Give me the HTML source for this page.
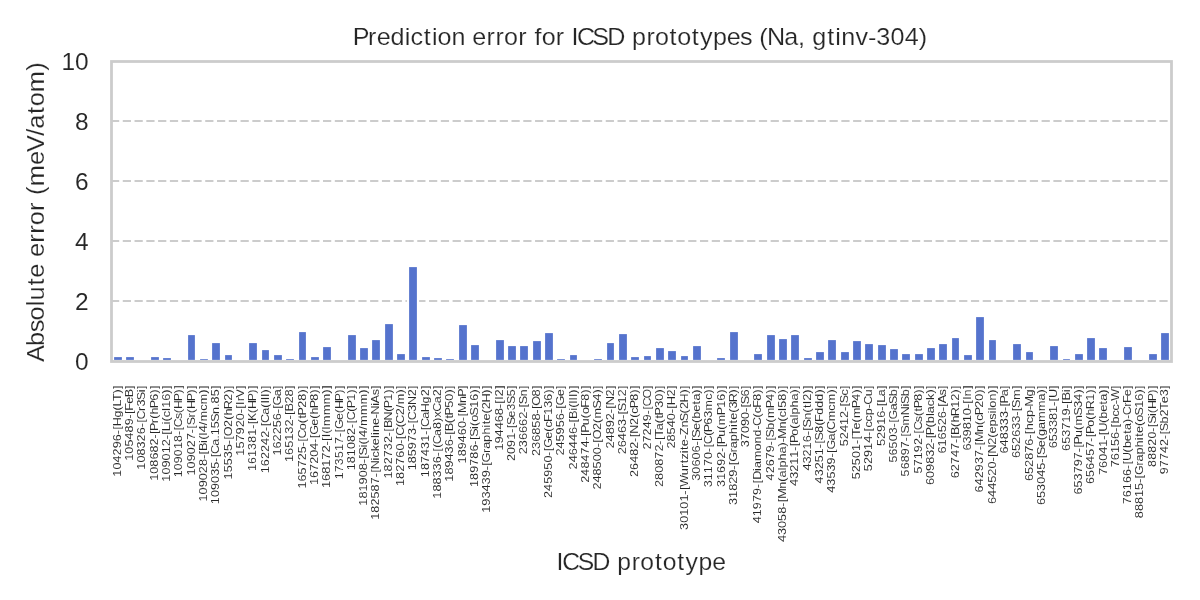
<!DOCTYPE html>
<html lang="en">
<head>
<meta charset="utf-8">
<title>Prediction error for ICSD prototypes (Na, gtinv-304)</title>
<style>
html,body{margin:0;padding:0;background:#ffffff;}
body{width:1200px;height:600px;overflow:hidden;}
svg{display:block;will-change:transform;}
text{font-family:"Liberation Sans",sans-serif;fill:#262626;stroke:#ffffff;stroke-width:0.163px;}
.m{font-size:23.50px;}
.x{font-size:11.75px;fill:#262626;stroke-width:0.056px;}
.t{fill:#262626;font-size:23.30px;stroke-width:0.080px;}
.g{stroke:#cccccc;stroke-width:2.22;stroke-dasharray:8.22 3.56;fill:none;}
.b{fill:#5573cd;stroke:#ffffff;stroke-width:2.22;}
</style>
</head>
<body>
<svg width="1200" height="600" viewBox="0 0 1200 600">
<rect x="0" y="0" width="1200" height="600" fill="#ffffff"/>
<g class="g">
<line x1="110.98" y1="301.0" x2="1171.2" y2="301.0"/>
<line x1="110.98" y1="241.0" x2="1171.2" y2="241.0"/>
<line x1="110.98" y1="181.0" x2="1171.2" y2="181.0"/>
<line x1="110.98" y1="121.0" x2="1171.2" y2="121.0"/>
</g>
<g class="b">
<rect x="113" y="356" width="10" height="5"/>
<rect x="125" y="356" width="10" height="5"/>
<rect x="150" y="356" width="10" height="5"/>
<rect x="162" y="357" width="10" height="4"/>
<rect x="187" y="334" width="9" height="27"/>
<rect x="199" y="358" width="10" height="3"/>
<rect x="211" y="342" width="10" height="19"/>
<rect x="224" y="354" width="9" height="7"/>
<rect x="248" y="342" width="10" height="19"/>
<rect x="261" y="349" width="9" height="12"/>
<rect x="273" y="354" width="10" height="7"/>
<rect x="285" y="358" width="10" height="3"/>
<rect x="298" y="331" width="9" height="30"/>
<rect x="310" y="356" width="10" height="5"/>
<rect x="322" y="346" width="10" height="15"/>
<rect x="347" y="334" width="10" height="27"/>
<rect x="359" y="347" width="10" height="14"/>
<rect x="371" y="339" width="10" height="22"/>
<rect x="384" y="323" width="10" height="38"/>
<rect x="396" y="353" width="10" height="8"/>
<rect x="408" y="266" width="10" height="95"/>
<rect x="421" y="356" width="10" height="5"/>
<rect x="433" y="357" width="10" height="4"/>
<rect x="445" y="358" width="10" height="3"/>
<rect x="458" y="324" width="10" height="37"/>
<rect x="470" y="344" width="10" height="17"/>
<rect x="495" y="339" width="10" height="22"/>
<rect x="507" y="345" width="10" height="16"/>
<rect x="519" y="345" width="10" height="16"/>
<rect x="532" y="340" width="10" height="21"/>
<rect x="544" y="332" width="10" height="29"/>
<rect x="556" y="358" width="10" height="3"/>
<rect x="569" y="354" width="9" height="7"/>
<rect x="593" y="358" width="10" height="3"/>
<rect x="606" y="342" width="9" height="19"/>
<rect x="618" y="333" width="10" height="28"/>
<rect x="630" y="356" width="10" height="5"/>
<rect x="643" y="355" width="9" height="6"/>
<rect x="655" y="347" width="10" height="14"/>
<rect x="667" y="350" width="10" height="11"/>
<rect x="680" y="355" width="9" height="6"/>
<rect x="692" y="345" width="10" height="16"/>
<rect x="716" y="357" width="10" height="4"/>
<rect x="729" y="331" width="10" height="30"/>
<rect x="753" y="353" width="10" height="8"/>
<rect x="766" y="334" width="10" height="27"/>
<rect x="778" y="338" width="10" height="23"/>
<rect x="790" y="334" width="10" height="27"/>
<rect x="803" y="357" width="10" height="4"/>
<rect x="815" y="351" width="10" height="10"/>
<rect x="827" y="339" width="10" height="22"/>
<rect x="840" y="351" width="10" height="10"/>
<rect x="852" y="340" width="10" height="21"/>
<rect x="864" y="343" width="10" height="18"/>
<rect x="877" y="344" width="10" height="17"/>
<rect x="889" y="348" width="10" height="13"/>
<rect x="901" y="353" width="10" height="8"/>
<rect x="914" y="353" width="10" height="8"/>
<rect x="926" y="347" width="10" height="14"/>
<rect x="938" y="343" width="10" height="18"/>
<rect x="951" y="337" width="9" height="24"/>
<rect x="963" y="354" width="10" height="7"/>
<rect x="975" y="316" width="10" height="45"/>
<rect x="988" y="339" width="9" height="22"/>
<rect x="1012" y="343" width="10" height="18"/>
<rect x="1025" y="351" width="9" height="10"/>
<rect x="1049" y="345" width="10" height="16"/>
<rect x="1062" y="358" width="9" height="3"/>
<rect x="1074" y="353" width="10" height="8"/>
<rect x="1086" y="337" width="10" height="24"/>
<rect x="1098" y="347" width="10" height="14"/>
<rect x="1123" y="346" width="10" height="15"/>
<rect x="1148" y="353" width="10" height="8"/>
<rect x="1160" y="332" width="10" height="29"/>
</g>
<rect x="111.5" y="61.5" width="1060.0" height="300.0" fill="none" stroke="#cccccc" stroke-width="2.78"/>
<text class="m" transform="scale(1.0700 1)" x="329.64 344.03 351.99 364.96 378.35 383.67 396.06 403.66 408.97 421.89 435.04 441.45 454.72 463.20 471.11 484.35 492.56 499.51 506.25 519.48 527.69 534.05 539.14 553.62 567.54 584.05 590.67 604.14 612.06 625.75 632.90 646.58 654.18 666.25 679.22 691.67 702.98 709.68 716.92 732.99 745.92 752.51 759.13 773.05 780.66 786.19 799.57 811.33 819.05 832.25 845.46 858.73" y="45.00">Prediction error for ICSD prototypes (Na, gtinv-304)</text>
<text class="m" transform="scale(1.0529 1)" x="528.64 533.92 548.65 562.85 579.56 586.36 600.03 608.14 622.02 629.36 643.23 651.02 663.32 676.53" y="569.60">ICSD prototype</text>
<g transform="translate(44.20 211.60) rotate(-90)"><text class="m" transform="scale(1.0806 1)" x="-139.18 -124.30 -111.74 -100.74 -87.66 -82.20 -68.36 -61.26 -48.39 -42.05 -28.86 -20.45 -12.62 0.54 8.69 15.33 23.50 43.12 55.19 70.27 76.78 90.40 97.46 110.54 130.46" y="0.00">Absolute error (meV/atom)</text></g>
<text class="m t" transform="scale(1.0510 1)" x="71.37" y="370.00">0</text>
<text class="m t" transform="scale(1.0510 1)" x="71.37" y="310.00">2</text>
<text class="m t" transform="scale(1.0510 1)" x="71.37" y="250.00">4</text>
<text class="m t" transform="scale(1.0510 1)" x="71.37" y="190.00">6</text>
<text class="m t" transform="scale(1.0510 1)" x="71.37" y="130.00">8</text>
<text class="m t" transform="scale(1.0510 1)" x="58.44 71.37" y="70.00">10</text>
<g transform="translate(120.71 385.00) rotate(-90)"><text class="x" transform="scale(1.0702 1)" x="-85.66 -79.04 -72.43 -65.82 -59.20 -52.59 -46.10 -41.87 -38.55 -30.36 -23.72 -20.11 -14.87 -8.04 -3.66" y="0.00">104296-[Hg(LT)]</text></g>
<g transform="translate(133.03 385.00) rotate(-90)"><text class="x" transform="scale(1.0680 1)" x="-70.95 -64.32 -57.69 -51.07 -44.44 -37.81 -31.31 -27.07 -24.00 -17.68 -11.56 -3.66" y="0.00">105489-[FeB]</text></g>
<g transform="translate(145.36 385.00) rotate(-90)"><text class="x" transform="scale(1.0722 1)" x="-79.00 -72.40 -65.79 -59.19 -52.59 -45.99 -39.51 -35.29 -32.25 -24.21 -20.09 -14.14 -6.79 -3.66" y="0.00">108326-[Cr3Si]</text></g>
<g transform="translate(157.68 385.00) rotate(-90)"><text class="x" transform="scale(1.0647 1)" x="-90.02 -83.37 -76.72 -70.07 -63.43 -56.78 -50.26 -46.01 -43.11 -35.91 -31.72 -27.68 -21.87 -14.74 -8.07 -3.67" y="0.00">108682-[Pr(hP6)]</text></g>
<g transform="translate(170.00 385.00) rotate(-90)"><text class="x" transform="scale(1.0884 1)" x="-88.85 -82.34 -75.84 -69.34 -62.83 -56.33 -49.93 -45.76 -42.56 -36.33 -33.57 -29.74 -24.12 -21.00 -14.49 -7.94 -3.63" y="0.00">109012-[Li(cI16)]</text></g>
<g transform="translate(182.32 385.00) rotate(-90)"><text class="x" transform="scale(1.0490 1)" x="-88.05 -81.31 -74.56 -67.81 -61.06 -54.32 -47.72 -43.41 -40.25 -32.48 -26.67 -22.90 -15.39 -8.16 -3.70" y="0.00">109018-[Cs(HP)]</text></g>
<g transform="translate(194.65 385.00) rotate(-90)"><text class="x" transform="scale(1.0585 1)" x="-85.47 -78.79 -72.10 -65.41 -58.73 -52.04 -45.49 -41.22 -38.12 -30.66 -26.45 -22.73 -15.29 -8.11 -3.68" y="0.00">109027-[Sr(HP)]</text></g>
<g transform="translate(206.97 385.00) rotate(-90)"><text class="x" transform="scale(1.0942 1)" x="-106.47 -100.00 -93.53 -87.07 -80.60 -74.13 -67.75 -63.61 -60.42 -52.91 -50.16 -46.36 -43.26 -36.68 -33.27 -23.57 -17.78 -7.91 -3.62" y="0.00">109028-[Bi(I4/mcm)]</text></g>
<g transform="translate(219.29 385.00) rotate(-90)"><text class="x" transform="scale(1.0675 1)" x="-111.66 -105.03 -98.40 -91.77 -85.14 -78.51 -72.00 -67.76 -64.70 -56.90 -50.41 -47.08 -40.44 -34.47 -27.21 -20.62 -17.28 -10.65 -3.67" y="0.00">109035-[Ca.15Sn.85]</text></g>
<g transform="translate(231.62 385.00) rotate(-90)"><text class="x" transform="scale(1.0713 1)" x="-88.13 -81.53 -74.92 -68.31 -61.71 -55.22 -51.00 -47.82 -39.13 -32.49 -28.48 -22.56 -14.67 -8.03 -3.66" y="0.00">15535-[O2(hR2)]</text></g>
<g transform="translate(243.94 385.00) rotate(-90)"><text class="x" transform="scale(1.0922 1)" x="-64.69 -58.21 -51.73 -45.25 -38.77 -32.29 -25.90 -21.75 -18.26 -14.99 -11.38 -3.62" y="0.00">157920-[IrV]</text></g>
<g transform="translate(256.26 385.00) rotate(-90)"><text class="x" transform="scale(1.0561 1)" x="-81.55 -74.85 -68.15 -61.45 -54.74 -48.04 -41.48 -37.20 -33.98 -26.50 -22.78 -15.31 -8.12 -3.69" y="0.00">161381-[K(HP)]</text></g>
<g transform="translate(268.58 385.00) rotate(-90)"><text class="x" transform="scale(1.0727 1)" x="-82.26 -75.66 -69.06 -62.46 -55.86 -49.27 -42.79 -38.57 -35.53 -27.76 -21.25 -17.37 -14.31 -11.25 -8.03 -3.66" y="0.00">162242-[Ca(III)]</text></g>
<g transform="translate(280.91 385.00) rotate(-90)"><text class="x" transform="scale(1.0808 1)" x="-65.32 -58.77 -52.22 -45.67 -39.12 -32.57 -26.13 -21.94 -18.88 -10.44 -3.64" y="0.00">162256-[Ga]</text></g>
<g transform="translate(293.23 385.00) rotate(-90)"><text class="x" transform="scale(1.0906 1)" x="-70.58 -64.09 -57.60 -51.11 -44.62 -38.13 -31.73 -27.58 -24.38 -16.98 -10.49 -3.62" y="0.00">165132-[B28]</text></g>
<g transform="translate(305.55 385.00) rotate(-90)"><text class="x" transform="scale(1.0722 1)" x="-96.63 -90.03 -83.43 -76.83 -70.23 -63.63 -57.14 -52.92 -49.89 -42.11 -35.61 -31.22 -28.35 -21.27 -14.66 -8.03 -3.66" y="0.00">165725-[Co(tP28)]</text></g>
<g transform="translate(317.87 385.00) rotate(-90)"><text class="x" transform="scale(1.0647 1)" x="-94.00 -87.35 -80.71 -74.06 -67.41 -60.76 -54.24 -50.00 -46.85 -38.28 -31.72 -27.68 -21.87 -14.74 -8.07 -3.67" y="0.00">167204-[Ge(hP8)]</text></g>
<g transform="translate(330.20 385.00) rotate(-90)"><text class="x" transform="scale(1.1023 1)" x="-93.43 -87.00 -80.58 -74.16 -67.74 -61.32 -54.98 -50.86 -47.41 -44.27 -40.49 -37.35 -27.52 -17.68 -7.86 -3.60" y="0.00">168172-[I(Immm)]</text></g>
<g transform="translate(342.52 385.00) rotate(-90)"><text class="x" transform="scale(1.0549 1)" x="-89.39 -82.68 -75.97 -69.26 -62.55 -55.84 -49.27 -44.98 -41.78 -33.15 -26.53 -22.80 -15.33 -8.13 -3.69" y="0.00">173517-[Ge(HP)]</text></g>
<g transform="translate(354.84 385.00) rotate(-90)"><text class="x" transform="scale(1.0630 1)" x="-80.27 -73.61 -66.96 -60.30 -53.64 -46.98 -40.45 -36.20 -33.11 -25.13 -21.90 -14.76 -8.08 -3.67" y="0.00">181082-[C(P1)]</text></g>
<g transform="translate(367.16 385.00) rotate(-90)"><text class="x" transform="scale(1.0930 1)" x="-110.38 -103.91 -97.43 -90.95 -84.48 -78.00 -71.62 -67.47 -64.54 -57.28 -54.54 -50.72 -47.62 -41.03 -37.62 -27.71 -17.79 -7.91 -3.62" y="0.00">181908-[Si(I4/mmm)]</text></g>
<g transform="translate(379.49 385.00) rotate(-90)"><text class="x" transform="scale(1.0702 1)" x="-125.87 -119.26 -112.64 -106.03 -99.42 -92.80 -86.31 -82.08 -78.78 -70.51 -67.84 -61.97 -56.22 -49.62 -46.73 -43.96 -37.46 -31.08 -27.60 -19.33 -16.95 -9.70 -3.66" y="0.00">182587-[Nickeline-NiAs]</text></g>
<g transform="translate(391.81 385.00) rotate(-90)"><text class="x" transform="scale(1.0614 1)" x="-88.10 -81.44 -74.77 -68.10 -61.43 -54.76 -48.22 -43.96 -40.61 -33.42 -25.17 -21.93 -14.78 -8.09 -3.68" y="0.00">182732-[BN(P1)]</text></g>
<g transform="translate(404.13 385.00) rotate(-90)"><text class="x" transform="scale(1.0745 1)" x="-94.01 -87.42 -80.83 -74.25 -67.66 -61.07 -54.60 -50.39 -47.36 -39.44 -36.10 -28.21 -21.54 -18.02 -8.02 -3.65" y="0.00">182760-[C(C2/m)]</text></g>
<g transform="translate(416.46 385.00) rotate(-90)"><text class="x" transform="scale(1.0718 1)" x="-79.66 -73.05 -66.45 -59.84 -53.24 -46.64 -40.15 -35.93 -32.89 -24.99 -18.78 -10.62 -3.66" y="0.00">185973-[C3N2]</text></g>
<g transform="translate(428.78 385.00) rotate(-90)"><text class="x" transform="scale(1.0699 1)" x="-86.19 -79.57 -72.95 -66.34 -59.72 -53.11 -46.61 -42.38 -39.34 -31.54 -25.42 -17.24 -10.63 -3.66" y="0.00">187431-[CaHg2]</text></g>
<g transform="translate(441.10 385.00) rotate(-90)"><text class="x" transform="scale(1.0685 1)" x="-106.42 -99.79 -93.17 -86.54 -79.92 -73.30 -66.79 -62.56 -58.82 -55.44 -47.64 -41.14 -34.49 -30.35 -24.94 -17.14 -10.64 -3.66" y="0.00">188336-[(Ca8)xCa2]</text></g>
<g transform="translate(453.42 385.00) rotate(-90)"><text class="x" transform="scale(1.0807 1)" x="-89.48 -82.93 -76.38 -69.83 -63.28 -56.73 -50.29 -46.10 -42.84 -35.34 -30.99 -28.15 -21.12 -14.57 -7.98 -3.64" y="0.00">189436-[B(tP50)]</text></g>
<g transform="translate(465.75 385.00) rotate(-90)"><text class="x" transform="scale(1.0638 1)" x="-73.75 -67.10 -60.44 -53.79 -47.14 -40.48 -33.96 -29.71 -26.42 -16.97 -11.15 -3.67" y="0.00">189460-[MnP]</text></g>
<g transform="translate(478.07 385.00) rotate(-90)"><text class="x" transform="scale(1.0698 1)" x="-95.32 -88.71 -82.09 -75.48 -68.86 -62.24 -55.75 -51.52 -48.48 -41.12 -38.30 -34.40 -28.57 -21.31 -14.69 -8.04 -3.66" y="0.00">189786-[Si(oS16)]</text></g>
<g transform="translate(490.39 385.00) rotate(-90)"><text class="x" transform="scale(1.0863 1)" x="-117.57 -111.06 -104.54 -98.03 -91.51 -84.99 -78.58 -74.41 -71.38 -62.69 -58.76 -52.37 -45.88 -39.25 -36.14 -32.62 -26.16 -22.22 -16.08 -7.95 -3.63" y="0.00">193439-[Graphite(2H)]</text></g>
<g transform="translate(502.71 385.00) rotate(-90)"><text class="x" transform="scale(1.1021 1)" x="-59.51 -53.08 -46.66 -40.24 -33.82 -27.40 -21.05 -16.94 -13.48 -10.42 -3.60" y="0.00">194468-[I2]</text></g>
<g transform="translate(515.04 385.00) rotate(-90)"><text class="x" transform="scale(1.0594 1)" x="-71.79 -65.11 -58.42 -51.74 -45.20 -40.93 -37.84 -30.62 -24.05 -18.03 -10.70 -3.68" y="0.00">2091-[Se3S5]</text></g>
<g transform="translate(527.36 385.00) rotate(-90)"><text class="x" transform="scale(1.0821 1)" x="-64.02 -57.48 -50.94 -44.40 -37.85 -31.31 -24.88 -20.69 -17.71 -10.54 -3.64" y="0.00">236662-[Sn]</text></g>
<g transform="translate(539.68 385.00) rotate(-90)"><text class="x" transform="scale(1.0868 1)" x="-65.34 -58.82 -52.31 -45.80 -39.29 -32.77 -26.36 -22.19 -19.10 -10.52 -3.63" y="0.00">236858-[O8]</text></g>
<g transform="translate(552.00 385.00) rotate(-90)"><text class="x" transform="scale(1.0685 1)" x="-105.76 -99.14 -92.51 -85.89 -79.27 -72.64 -66.14 -61.91 -58.78 -50.24 -43.70 -39.78 -34.58 -27.95 -21.33 -14.70 -8.05 -3.66" y="0.00">245950-[Ge(cF136)]</text></g>
<g transform="translate(564.33 385.00) rotate(-90)"><text class="x" transform="scale(1.0812 1)" x="-65.32 -58.77 -52.23 -45.68 -39.13 -32.59 -26.15 -21.96 -18.90 -10.45 -3.64" y="0.00">245956-[Ge]</text></g>
<g transform="translate(576.65 385.00) rotate(-90)"><text class="x" transform="scale(1.0861 1)" x="-77.73 -71.21 -64.69 -58.18 -51.66 -45.14 -38.72 -34.55 -31.33 -23.78 -21.01 -17.18 -14.16 -11.14 -7.95 -3.63" y="0.00">246446-[Bi(III)]</text></g>
<g transform="translate(588.97 385.00) rotate(-90)"><text class="x" transform="scale(1.0629 1)" x="-91.97 -85.31 -78.66 -72.00 -65.34 -58.68 -52.15 -47.89 -44.98 -37.92 -31.25 -27.32 -21.43 -14.76 -8.08 -3.67" y="0.00">248474-[Pu(oF8)]</text></g>
<g transform="translate(601.30 385.00) rotate(-90)"><text class="x" transform="scale(1.0755 1)" x="-97.29 -90.71 -84.12 -77.54 -70.96 -64.38 -57.91 -53.70 -50.55 -41.89 -35.27 -31.15 -21.85 -14.63 -8.01 -3.65" y="0.00">248500-[O2(mS4)]</text></g>
<g transform="translate(613.62 385.00) rotate(-90)"><text class="x" transform="scale(1.0920 1)" x="-58.16 -51.68 -45.20 -38.72 -32.24 -25.85 -21.70 -18.51 -10.48 -3.62" y="0.00">24892-[N2]</text></g>
<g transform="translate(625.94 385.00) rotate(-90)"><text class="x" transform="scale(1.0825 1)" x="-64.02 -57.48 -50.94 -44.40 -37.87 -31.43 -27.25 -24.27 -17.09 -10.55 -3.64" y="0.00">26463-[S12]</text></g>
<g transform="translate(638.26 385.00) rotate(-90)"><text class="x" transform="scale(1.0680 1)" x="-86.16 -79.53 -72.91 -66.28 -59.65 -53.15 -48.91 -45.59 -37.41 -30.75 -26.84 -21.81 -14.71 -8.05 -3.66" y="0.00">26482-[N2(cP8)]</text></g>
<g transform="translate(650.59 385.00) rotate(-90)"><text class="x" transform="scale(1.0637 1)" x="-60.68 -54.03 -47.37 -40.72 -34.06 -27.54 -23.29 -20.21 -12.77 -3.67" y="0.00">27249-[CO]</text></g>
<g transform="translate(662.91 385.00) rotate(-90)"><text class="x" transform="scale(1.0768 1)" x="-94.73 -88.16 -81.58 -75.01 -68.44 -61.86 -55.40 -51.20 -47.99 -41.95 -35.46 -31.10 -28.24 -21.19 -14.62 -8.00 -3.65" y="0.00">280872-[Ta(tP30)]</text></g>
<g transform="translate(675.23 385.00) rotate(-90)"><text class="x" transform="scale(1.0928 1)" x="-58.16 -51.69 -45.21 -38.73 -32.26 -25.87 -21.72 -18.52 -10.48 -3.62" y="0.00">28540-[H2]</text></g>
<g transform="translate(687.55 385.00) rotate(-90)"><text class="x" transform="scale(1.0786 1)" x="-134.37 -127.80 -121.24 -114.68 -108.12 -101.66 -97.47 -94.27 -83.75 -77.05 -72.59 -69.16 -63.39 -60.26 -56.70 -50.36 -46.60 -39.47 -33.58 -26.33 -22.35 -16.17 -7.99 -3.64" y="0.00">30101-[Wurtzite-ZnS(2H)]</text></g>
<g transform="translate(699.88 385.00) rotate(-90)"><text class="x" transform="scale(1.0859 1)" x="-88.19 -81.67 -75.15 -68.64 -62.12 -55.70 -51.53 -48.57 -41.51 -35.05 -31.11 -24.71 -17.91 -14.40 -7.95 -3.63" y="0.00">30606-[Se(beta)]</text></g>
<g transform="translate(712.20 385.00) rotate(-90)"><text class="x" transform="scale(1.0662 1)" x="-95.94 -89.31 -82.67 -76.03 -69.39 -62.88 -58.64 -55.57 -47.60 -44.38 -37.27 -30.63 -23.85 -13.95 -8.06 -3.67" y="0.00">31170-[C(P63mc)]</text></g>
<g transform="translate(724.52 385.00) rotate(-90)"><text class="x" transform="scale(1.0648 1)" x="-95.89 -89.25 -82.60 -75.95 -69.30 -62.78 -58.54 -55.63 -48.58 -41.92 -37.73 -28.52 -21.39 -14.74 -8.07 -3.67" y="0.00">31692-[Pu(mP16)]</text></g>
<g transform="translate(736.85 385.00) rotate(-90)"><text class="x" transform="scale(1.0808 1)" x="-111.02 -104.47 -97.92 -91.37 -84.82 -78.38 -74.19 -71.13 -62.42 -58.46 -52.04 -45.51 -38.85 -35.73 -32.18 -25.70 -21.73 -15.85 -7.98 -3.64" y="0.00">31829-[Graphite(3R)]</text></g>
<g transform="translate(749.17 385.00) rotate(-90)"><text class="x" transform="scale(1.0824 1)" x="-57.49 -50.95 -44.41 -37.87 -31.33 -24.89 -20.71 -17.73 -10.55 -3.64" y="0.00">37090-[S6]</text></g>
<g transform="translate(761.49 385.00) rotate(-90)"><text class="x" transform="scale(1.0648 1)" x="-129.89 -123.25 -116.60 -109.95 -103.30 -96.79 -92.54 -89.09 -80.68 -77.99 -71.32 -61.41 -54.90 -48.28 -41.77 -38.52 -30.55 -26.62 -21.39 -14.74 -8.07 -3.67" y="0.00">41979-[Diamond-C(cF8)]</text></g>
<g transform="translate(773.81 385.00) rotate(-90)"><text class="x" transform="scale(1.0675 1)" x="-89.43 -82.79 -76.16 -69.53 -62.90 -56.40 -52.16 -49.11 -41.84 -35.19 -31.02 -21.82 -14.71 -8.06 -3.67" y="0.00">42679-[Sb(mP4)]</text></g>
<g transform="translate(786.14 385.00) rotate(-90)"><text class="x" transform="scale(1.0743 1)" x="-146.26 -139.67 -133.08 -126.49 -119.90 -113.43 -109.22 -105.99 -96.62 -90.00 -86.12 -79.55 -76.78 -70.22 -63.76 -57.26 -53.37 -49.97 -40.59 -33.98 -30.10 -24.42 -21.23 -14.64 -8.02 -3.65" y="0.00">43058-[Mn(alpha)-Mn(cI58)]</text></g>
<g transform="translate(798.46 385.00) rotate(-90)"><text class="x" transform="scale(1.0750 1)" x="-93.91 -87.32 -80.74 -74.16 -67.57 -61.10 -56.89 -54.04 -47.23 -40.74 -36.86 -30.29 -27.53 -20.96 -14.51 -8.01 -3.65" y="0.00">43211-[Po(alpha)]</text></g>
<g transform="translate(810.78 385.00) rotate(-90)"><text class="x" transform="scale(1.0921 1)" x="-78.40 -71.92 -65.44 -58.96 -52.48 -46.09 -41.94 -39.01 -31.90 -25.37 -21.06 -17.56 -14.46 -7.92 -3.62" y="0.00">43216-[Sn(tI2)]</text></g>
<g transform="translate(823.10 385.00) rotate(-90)"><text class="x" transform="scale(1.0694 1)" x="-92.05 -85.43 -78.82 -72.20 -65.58 -59.08 -54.85 -51.81 -44.55 -37.90 -34.51 -27.89 -21.29 -14.69 -8.04 -3.66" y="0.00">43251-[S8(Fddd)]</text></g>
<g transform="translate(835.43 385.00) rotate(-90)"><text class="x" transform="scale(1.0717 1)" x="-100.52 -93.91 -87.31 -80.70 -74.10 -67.61 -63.39 -60.28 -51.78 -45.26 -41.90 -33.87 -24.00 -18.05 -8.03 -3.66" y="0.00">43539-[Ga(Cmcm)]</text></g>
<g transform="translate(847.75 385.00) rotate(-90)"><text class="x" transform="scale(1.0781 1)" x="-56.81 -50.25 -43.68 -37.12 -30.55 -24.09 -19.90 -16.89 -9.80 -3.65" y="0.00">52412-[Sc]</text></g>
<g transform="translate(860.07 385.00) rotate(-90)"><text class="x" transform="scale(1.0700 1)" x="-88.15 -81.53 -74.92 -68.30 -61.69 -55.19 -50.96 -47.72 -41.65 -35.11 -30.96 -21.78 -14.69 -8.04 -3.66" y="0.00">52501-[Te(mP4)]</text></g>
<g transform="translate(872.39 385.00) rotate(-90)"><text class="x" transform="scale(1.0732 1)" x="-80.30 -73.71 -67.11 -60.52 -53.92 -47.44 -43.23 -39.66 -33.96 -28.15 -21.68 -18.48 -10.60 -3.65" y="0.00">52914-[ccp-Cu]</text></g>
<g transform="translate(884.72 385.00) rotate(-90)"><text class="x" transform="scale(1.0875 1)" x="-56.20 -49.69 -43.18 -36.67 -30.16 -23.75 -19.59 -16.38 -10.39 -3.63" y="0.00">52916-[La]</text></g>
<g transform="translate(897.04 385.00) rotate(-90)"><text class="x" transform="scale(1.0613 1)" x="-73.09 -66.43 -59.76 -53.09 -46.42 -39.88 -35.62 -32.45 -23.88 -17.99 -10.68 -3.68" y="0.00">56503-[GaSb]</text></g>
<g transform="translate(909.36 385.00) rotate(-90)"><text class="x" transform="scale(1.0616 1)" x="-86.14 -79.48 -72.81 -66.14 -59.47 -52.94 -48.68 -45.60 -38.14 -28.47 -20.15 -17.98 -10.68 -3.68" y="0.00">56897-[SmNiSb]</text></g>
<g transform="translate(921.69 385.00) rotate(-90)"><text class="x" transform="scale(1.0668 1)" x="-82.89 -76.25 -69.62 -62.98 -56.35 -49.84 -45.60 -42.53 -34.87 -29.14 -24.74 -21.83 -14.72 -8.06 -3.67" y="0.00">57192-[Cs(tP8)]</text></g>
<g transform="translate(934.01 385.00) rotate(-90)"><text class="x" transform="scale(1.0791 1)" x="-92.73 -86.17 -79.61 -73.05 -66.49 -59.94 -53.49 -49.29 -46.46 -39.38 -35.40 -28.74 -26.11 -19.79 -13.97 -7.99 -3.64" y="0.00">609832-[P(black)]</text></g>
<g transform="translate(946.33 385.00) rotate(-90)"><text class="x" transform="scale(1.0822 1)" x="-63.36 -56.82 -50.28 -43.74 -37.20 -30.66 -24.22 -20.04 -16.80 -9.63 -3.64" y="0.00">616526-[As]</text></g>
<g transform="translate(958.65 385.00) rotate(-90)"><text class="x" transform="scale(1.0744 1)" x="-86.84 -80.25 -73.67 -67.08 -60.49 -54.02 -49.81 -46.52 -38.99 -35.00 -29.09 -21.23 -14.64 -8.02 -3.65" y="0.00">62747-[B(hR12)]</text></g>
<g transform="translate(970.98 385.00) rotate(-90)"><text class="x" transform="scale(1.1017 1)" x="-59.50 -53.08 -46.66 -40.23 -33.81 -27.38 -21.04 -16.92 -13.46 -10.41 -3.60" y="0.00">639810-[In]</text></g>
<g transform="translate(983.30 385.00) rotate(-90)"><text class="x" transform="scale(1.0685 1)" x="-100.54 -93.91 -87.29 -80.66 -74.04 -67.42 -60.91 -56.68 -53.42 -44.00 -37.36 -33.45 -28.43 -21.33 -14.70 -8.05 -3.66" y="0.00">642937-[Mn(cP20)]</text></g>
<g transform="translate(995.62 385.00) rotate(-90)"><text class="x" transform="scale(1.0843 1)" x="-109.74 -103.21 -96.68 -90.15 -83.62 -77.10 -70.67 -66.49 -63.27 -55.19 -48.61 -44.77 -38.36 -32.10 -26.37 -23.52 -20.91 -14.52 -7.96 -3.63" y="0.00">644520-[N2(epsilon)]</text></g>
<g transform="translate(1007.94 385.00) rotate(-90)"><text class="x" transform="scale(1.0729 1)" x="-63.83 -57.23 -50.64 -44.04 -37.44 -30.85 -24.36 -20.15 -17.28 -10.49 -3.65" y="0.00">648333-[Pa]</text></g>
<g transform="translate(1020.27 385.00) rotate(-90)"><text class="x" transform="scale(1.0860 1)" x="-67.28 -60.77 -54.25 -47.73 -41.21 -34.70 -28.28 -24.11 -21.15 -13.88 -3.63" y="0.00">652633-[Sm]</text></g>
<g transform="translate(1032.59 385.00) rotate(-90)"><text class="x" transform="scale(1.0815 1)" x="-88.83 -82.28 -75.74 -69.19 -62.65 -56.10 -49.66 -45.47 -41.84 -35.43 -29.66 -23.23 -19.87 -10.55 -3.64" y="0.00">652876-[hcp-Mg]</text></g>
<g transform="translate(1044.91 385.00) rotate(-90)"><text class="x" transform="scale(1.0819 1)" x="-111.02 -104.48 -97.94 -91.40 -84.86 -78.31 -71.88 -67.69 -64.71 -57.63 -51.15 -47.19 -40.78 -34.24 -24.23 -14.44 -7.97 -3.64" y="0.00">653045-[Se(gamma)]</text></g>
<g transform="translate(1057.23 385.00) rotate(-90)"><text class="x" transform="scale(1.0889 1)" x="-58.15 -51.65 -45.15 -38.65 -32.15 -25.65 -19.25 -15.09 -11.97 -3.63" y="0.00">653381-[U]</text></g>
<g transform="translate(1069.56 385.00) rotate(-90)"><text class="x" transform="scale(1.0963 1)" x="-60.14 -53.68 -47.22 -40.77 -34.31 -27.86 -21.49 -17.35 -14.18 -6.67 -3.61" y="0.00">653719-[Bi]</text></g>
<g transform="translate(1081.88 385.00) rotate(-90)"><text class="x" transform="scale(1.0694 1)" x="-102.44 -95.82 -89.20 -82.59 -75.97 -69.35 -62.85 -58.62 -55.74 -48.72 -42.08 -37.92 -28.58 -21.31 -14.69 -8.04 -3.66" y="0.00">653797-[Pu(mS34)]</text></g>
<g transform="translate(1094.20 385.00) rotate(-90)"><text class="x" transform="scale(1.0623 1)" x="-93.21 -86.54 -79.88 -73.22 -66.55 -59.89 -53.36 -49.10 -46.19 -39.31 -32.75 -28.70 -22.72 -14.77 -8.09 -3.68" y="0.00">656457-[Po(hR1)]</text></g>
<g transform="translate(1106.53 385.00) rotate(-90)"><text class="x" transform="scale(1.0935 1)" x="-82.33 -75.85 -69.38 -62.91 -56.44 -50.05 -45.91 -42.81 -34.82 -30.92 -24.56 -17.80 -14.32 -7.91 -3.62" y="0.00">76041-[U(beta)]</text></g>
<g transform="translate(1118.85 385.00) rotate(-90)"><text class="x" transform="scale(1.0784 1)" x="-76.24 -69.68 -63.12 -56.55 -49.99 -43.54 -39.34 -35.69 -29.25 -23.58 -17.90 -14.67 -3.64" y="0.00">76156-[bcc-W]</text></g>
<g transform="translate(1131.17 385.00) rotate(-90)"><text class="x" transform="scale(1.0648 1)" x="-112.06 -105.41 -98.76 -92.11 -85.47 -78.95 -74.70 -71.45 -63.30 -59.26 -52.73 -45.83 -42.22 -35.66 -31.74 -28.49 -20.41 -16.89 -10.56 -3.67" y="0.00">76166-[U(beta)-CrFe]</text></g>
<g transform="translate(1143.49 385.00) rotate(-90)"><text class="x" transform="scale(1.0791 1)" x="-123.44 -116.88 -110.32 -103.76 -97.20 -90.75 -86.55 -83.49 -74.76 -70.79 -64.36 -57.82 -51.16 -48.03 -44.48 -37.98 -34.13 -28.35 -21.15 -14.59 -7.99 -3.64" y="0.00">88815-[Graphite(oS16)]</text></g>
<g transform="translate(1155.82 385.00) rotate(-90)"><text class="x" transform="scale(1.0551 1)" x="-77.62 -70.92 -64.21 -57.50 -50.79 -44.22 -39.94 -36.82 -29.40 -26.53 -22.79 -15.33 -8.13 -3.69" y="0.00">88820-[Si(HP)]</text></g>
<g transform="translate(1168.14 385.00) rotate(-90)"><text class="x" transform="scale(1.0681 1)" x="-83.59 -76.97 -70.34 -63.71 -57.09 -50.58 -46.35 -43.30 -36.03 -29.41 -23.24 -17.16 -10.64 -3.66" y="0.00">97742-[Sb2Te3]</text></g>
</svg>
</body>
</html>
